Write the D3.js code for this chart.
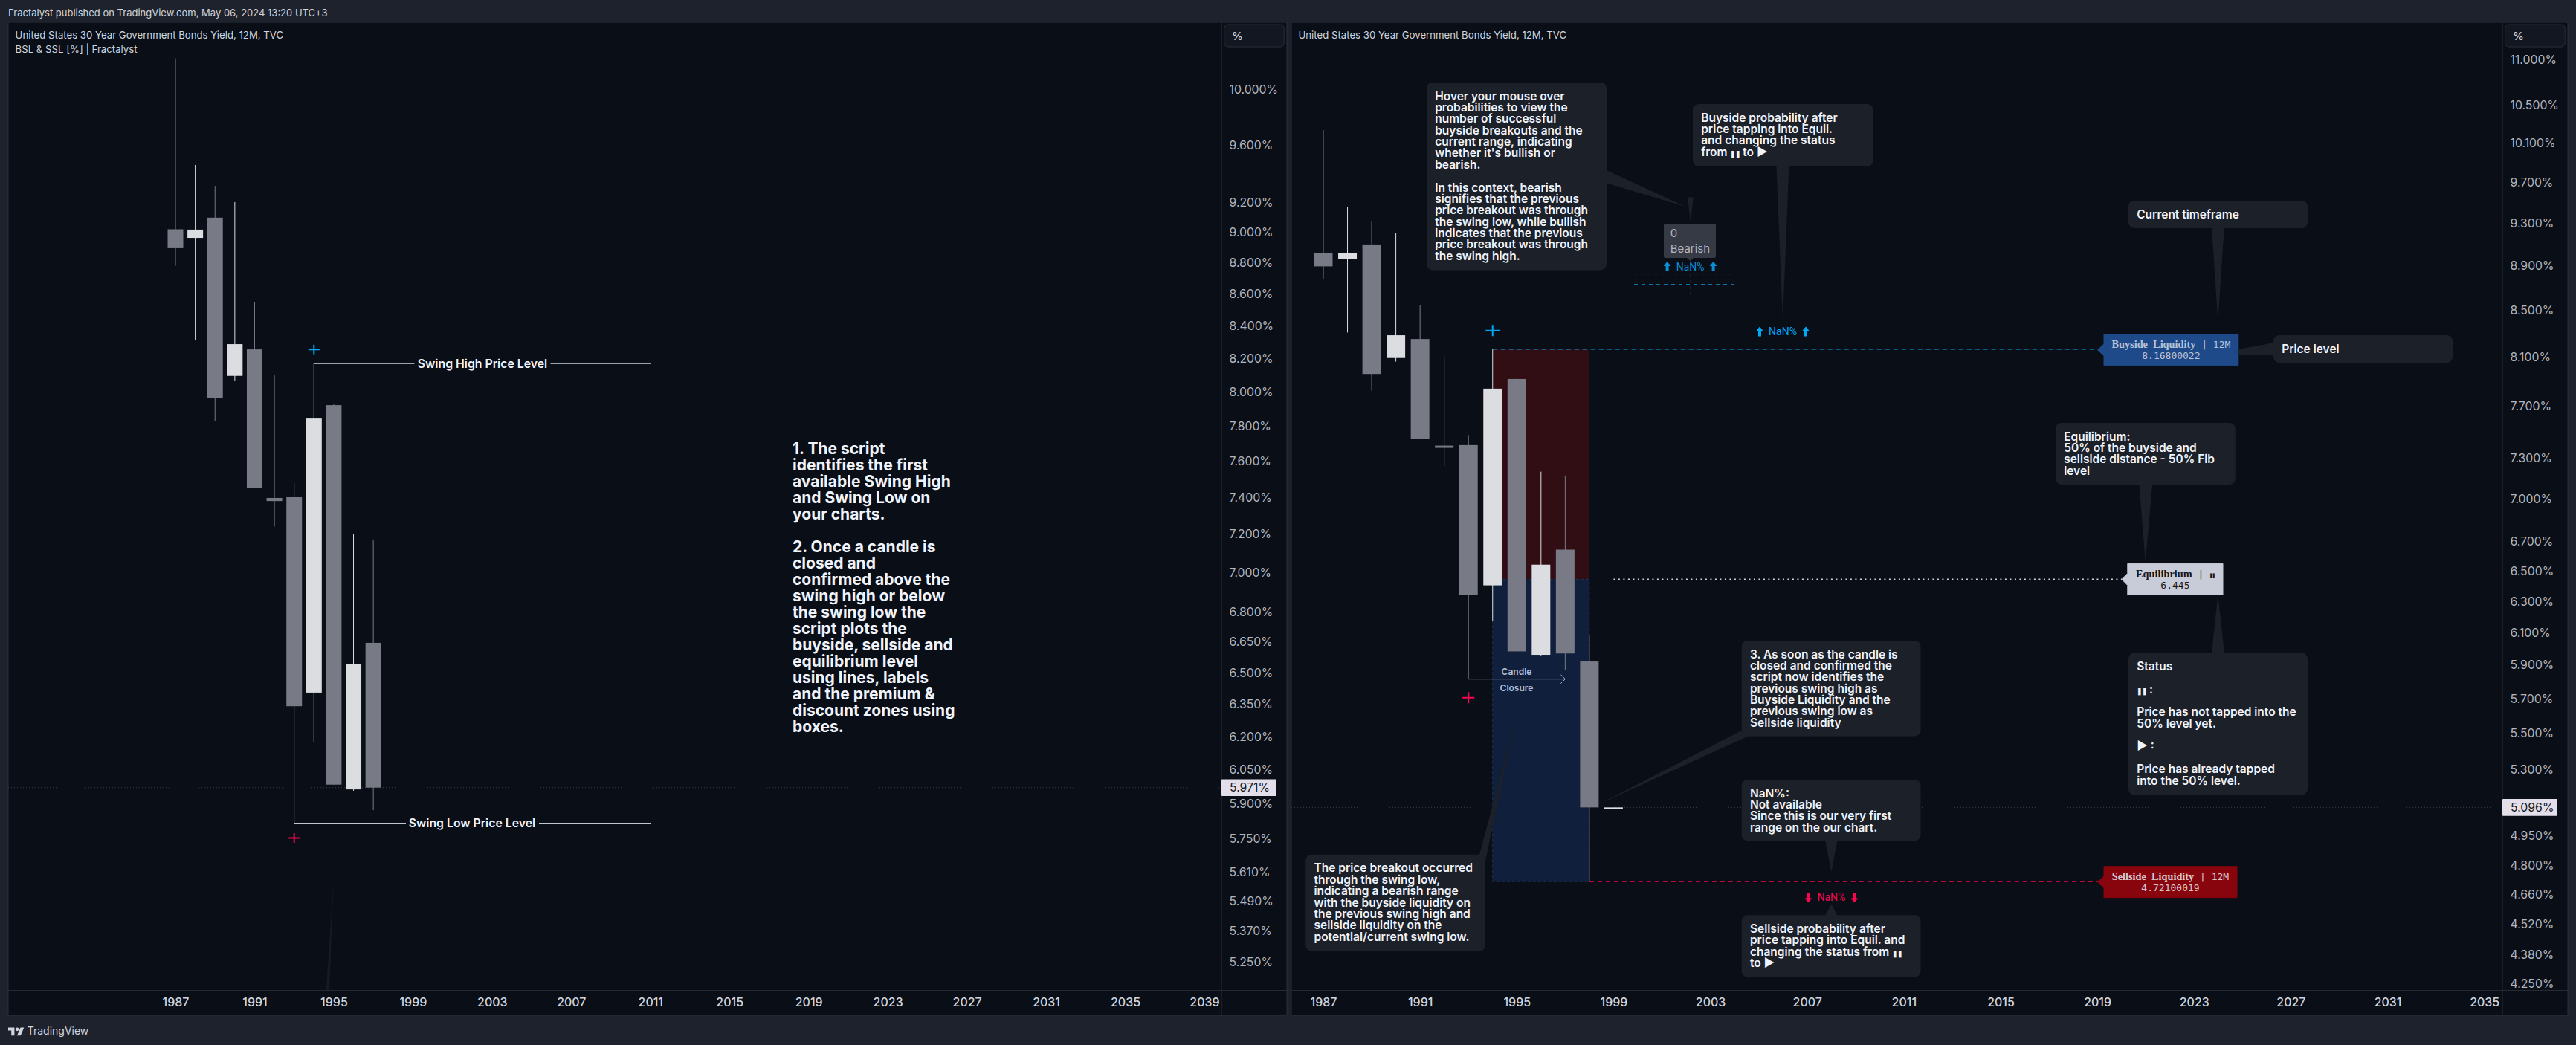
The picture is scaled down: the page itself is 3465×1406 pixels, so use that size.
<!DOCTYPE html>
<html>
<head>
<meta charset="utf-8">
<title>BSL & SSL</title>
<script src="https://cdn.jsdelivr.net/npm/d3@7"></script>
<style>
    html, body { margin: 0; padding: 0; background: #1e222d; overflow: hidden; }
    svg { display: block; font-family: Inter, "Noto Sans", sans-serif; }
</style>
</head>
<body>
<div id="chart"></div>
<script>
// Yearly candles (1999 only exists on the right pane)
const years = [1987, 1988, 1989, 1990, 1991, 1992, 1993, 1994, 1995, 1996, 1997, 1998, 1999];
const opens = [9.02, 8.963, 9.098, 8.094, 8.254, 7.396, 7.40, 6.405, 7.921, 5.963, 6.645, 5.922, 5.096];
const highs = [10.234, 9.459, 9.314, 9.203, 8.545, 8.102, 7.477, 8.168, 7.93, 7.20, 7.172, 6.083, 5.096];
const lows = [8.78, 8.309, 7.826, 8.064, 7.449, 7.241, 5.816, 6.173, 5.984, 5.957, 5.872, 4.721, 5.096];
const closes = [8.895, 9.018, 7.962, 8.286, 7.449, 7.379, 6.341, 7.843, 5.984, 6.543, 5.971, 5.096, 5.096];

const buysideLevel = 8.168;
const sellsideLevel = 4.721;
const equilLevel = 6.445;
const swingLowLevel = 5.816;

const priceTicksLeft = [10, 9.6, 9.2, 9, 8.8, 8.6, 8.4, 8.2, 8, 7.8, 7.6, 7.4, 7.2, 7, 6.8, 6.65, 6.5, 6.35, 6.2, 6.05, 5.9, 5.75, 5.61, 5.49, 5.37, 5.25];
const priceTicksRight = [11, 10.5, 10.1, 9.7, 9.3, 8.9, 8.5, 8.1, 7.7, 7.3, 7, 6.7, 6.5, 6.3, 6.1, 5.9, 5.7, 5.5, 5.3, 4.95, 4.8, 4.66, 4.52, 4.38, 4.25];
const yearTicksLeft = [1987, 1991, 1995, 1999, 2003, 2007, 2011, 2015, 2019, 2023, 2027, 2031, 2035, 2039];
const yearTicksRight = [1987, 1991, 1995, 1999, 2003, 2007, 2011, 2015, 2019, 2023, 2027, 2031, 2035];

// Callout texts
const introLines = ["1. The script", "identifies the first", "available Swing High", "and Swing Low on", "your charts.", "", "2. Once a candle is", "closed and", "confirmed above the", "swing high or below", "the swing low the", "script plots the", "buyside, sellside and", "equilibrium level", "using lines, labels", "and the premium &", "discount zones using", "boxes."];
const hoverLines = ["Hover your mouse over", "probabilities to view the", "number of successful", "buyside breakouts and the", "current range, indicating", "whether it's bullish or", "bearish.", "", "In this context, bearish", "signifies that the previous", "price breakout was through", "the swing low, while bullish", "indicates that the previous", "price breakout was through", "the swing high."];
const buysideProbLines = ["Buyside probability after", "price tapping into Equil.", "and changing the status", "from ❚❚ to ▶"];
const timeframeLines = ["Current timeframe"];
const priceLevelLines = ["Price level"];
const equilLines = ["Equilibrium:", "50% of the buyside and", "sellside distance - 50% Fib", "level"];
const statusLines = ["Status", "", "❚❚ :", "", "Price has not tapped into the", "50% level yet.", "", "▶ :", "", "Price has already tapped", "into the 50% level."];
const step3Lines = ["3. As soon as the candle is", "closed and confirmed the", "script now identifies the", "previous swing high as", "Buyside Liquidity and the", "previous swing low as", "Sellside liquidity"];
const nanLines = ["NaN%:", "Not available", "Since this is our very first", "range on the our chart."];
const sellsideProbLines = ["Sellside probability after", "price tapping into Equil. and", "changing the status from ❚❚", "to ▶"];
const breakoutLines = ["The price breakout occurred", "through the swing low,", "indicating a bearish range", "with the buyside liquidity on", "the previous swing high and", "sellside liquidity on the", "potential/current swing low."];

const width = 3465;
const height = 1406;
const paneBg = "#0a0e17";
const border = "#2a2e39";
const bearColor = "#787b86";
const bullColor = "#dcdde0";
const blue = "#00a8f5";
const red = "#f7074f";
const calloutFill = "#1c2029";
const monoFont = "'DejaVu Sans Mono', monospace";
const serifFont = "'Liberation Serif', serif";
const pauseGlyph = "❚❚";

const candles = years.map((year, i) => ({ year, open: opens[i], high: highs[i], low: lows[i], close: closes[i] }));

const svg = d3.select("#chart")
    .append("svg")
    .attr("width", width)
    .attr("height", height)
    .attr("viewBox", `0 0 ${width} ${height}`);

// Page frame
svg.append("text")
    .attr("x", 11).attr("y", 17).attr("dy", "0.35em")
    .attr("fill", "#d1d4dc").attr("font-size", 13)
    .text("Fractalyst published on TradingView.com, May 06, 2024 13:20 UTC+3");

const logo = svg.append("g").attr("transform", "translate(11, 1380) scale(0.6)").attr("fill", "#d1d4dc");
logo.append("path").attr("d", "M14 22H7V11H0V4h14v18zM28 22h-8l7.5-18h8L28 22z");
logo.append("circle").attr("cx", 20).attr("cy", 8).attr("r", 4);
svg.append("text")
    .attr("x", 36.7).attr("y", 1387).attr("dy", "0.35em")
    .attr("fill", "#d1d4dc").attr("font-size", 14)
    .text("TradingView");

function drawPane(opts) {
    const { left, right, axisX, x, y, priceTicks, yearTicks, lastPrice, lastY } = opts;
    const top = 30;
    const bottom = 1366;
    const axisY = 1332.6;
    const g = svg.append("g");

    g.append("rect")
        .attr("x", left).attr("y", top)
        .attr("width", right - left).attr("height", bottom - top)
        .attr("fill", paneBg).attr("stroke", border).attr("stroke-width", 1);

    // Price axis
    const yAxis = g.append("g")
        .attr("transform", `translate(${axisX}, 0)`)
        .call(d3.axisRight(y)
            .tickValues(priceTicks)
            .tickSize(0)
            .tickPadding(10.5)
            .tickFormat((d) => `${d.toFixed(3)}%`));
    yAxis.select(".domain").remove();
    yAxis.selectAll("text")
        .attr("fill", "#b2b5be").attr("font-size", 15.8).attr("font-family", "Inter");

    // Time axis
    const xAxis = g.append("g")
        .attr("transform", `translate(0, ${axisY})`)
        .call(d3.axisBottom(x)
            .tickValues(yearTicks)
            .tickSize(0)
            .tickPadding(10)
            .tickFormat(d3.format("d")));
    xAxis.select(".domain").remove();
    xAxis.selectAll("text")
        .attr("fill", "#d1d4dc").attr("font-size", 16).attr("font-weight", 500).attr("font-family", "Inter");

    g.append("line").attr("x1", axisX).attr("x2", axisX).attr("y1", top).attr("y2", bottom).attr("stroke", border);
    g.append("line").attr("x1", left).attr("x2", right).attr("y1", axisY).attr("y2", axisY).attr("stroke", border);

    // Unit box
    g.append("rect")
        .attr("x", axisX + 3.7).attr("y", 33).attr("width", 80.5).attr("height", 30).attr("rx", 5)
        .attr("fill", "#131722").attr("stroke", border);
    g.append("text")
        .attr("x", axisX + 14).attr("y", 48.5).attr("dy", "0.35em")
        .attr("fill", "#d1d4dc").attr("font-size", 15).attr("font-weight", 500).text("%");

    // Last price line, drawn under the candles
    g.append("line")
        .attr("x1", left).attr("x2", axisX)
        .attr("y1", lastY).attr("y2", lastY)
        .attr("stroke", "#3a3e4a").attr("stroke-dasharray", "1 3");
    g.append("rect")
        .attr("x", axisX).attr("y", lastY - 11.3).attr("width", 74).attr("height", 22.6).attr("rx", 1)
        .attr("fill", "#e2dfea");
    g.append("text")
        .attr("x", axisX + 11).attr("y", lastY).attr("dy", "0.35em")
        .attr("fill", "#131722").attr("font-size", 15.8).text(`${lastPrice.toFixed(3)}%`);

    return g;
}

function drawCandles(g, data, x, y, bodyWidth) {
    const isBull = (d) => d.close >= d.open;
    const marks = g.selectAll(".candle").data(data).enter().append("g").attr("class", "candle");
    marks.append("line")
        .attr("x1", (d) => x(d.year)).attr("x2", (d) => x(d.year))
        .attr("y1", (d) => y(d.high)).attr("y2", (d) => y(d.low))
        .attr("stroke", (d) => isBull(d) ? bullColor : bearColor)
        .attr("stroke-width", 1);
    marks.append("rect")
        .attr("x", (d) => x(d.year) - bodyWidth / 2)
        .attr("width", bodyWidth)
        .attr("y", (d) => y(Math.max(d.open, d.close)))
        .attr("height", (d) => Math.max(2, y(Math.min(d.open, d.close)) - y(Math.max(d.open, d.close))))
        .attr("fill", (d) => isBull(d) ? bullColor : bearColor);
}

function drawCross(g, cx, cy, w, h, color) {
    g.append("path")
        .attr("d", `M${cx - w / 2},${cy}H${cx + w / 2}M${cx},${cy - h / 2}V${cy + h / 2}`)
        .attr("stroke", color).attr("stroke-width", 2).attr("fill", "none");
}

// Writes a string, keeping the pause glyph small like the status icon
function appendWithPause(text, str, glyphSize) {
    str.split(pauseGlyph).forEach((part, i) => {
        if (i > 0) {
            text.append("tspan").attr("font-size", glyphSize).attr("letter-spacing", -1.5).text(pauseGlyph);
        }
        if (part) {
            text.append("tspan").text(part);
        }
    });
}

function textBlock(g, lines, x, y, opts) {
    g.append("g").selectAll("text")
        .data(lines)
        .enter()
        .append("text")
        .attr("x", x)
        .attr("y", (d, i) => y + i * opts.lineHeight)
        .attr("dy", "0.35em")
        .attr("fill", opts.color || "#f0f3fa")
        .attr("font-size", opts.size)
        .attr("font-weight", opts.weight || 600)
        .each(function(d) {
            appendWithPause(d3.select(this), d, 9);
        });
}

// Dark rounded note with a pointed tail
function callout(g, x0, y0, x1, y1, lines, tail) {
    if (tail) {
        g.append("path").attr("d", d3.line()(tail) + "Z").attr("fill", calloutFill);
    }
    g.append("rect")
        .attr("x", x0).attr("y", y0).attr("width", x1 - x0).attr("height", y1 - y0).attr("rx", 8)
        .attr("fill", calloutFill);
    textBlock(g, lines, x0 + 11.2, y0 + 18.2, { size: 15.5, lineHeight: 15.36 });
}

function nanBadge(g, cx, cy, color, up) {
    g.append("text")
        .attr("x", cx).attr("y", cy).attr("dy", "0.35em")
        .attr("text-anchor", "middle").attr("fill", color).attr("font-size", 14).attr("font-family", "Roboto")
        .text("NaN%");
    [-31, 31].forEach((dx) => {
        const s = up ? 1 : -1;
        g.append("path")
            .attr("d", `M${cx + dx},${cy - 7 * s}l5,${6 * s}h-3v${7 * s}h-4v${-7 * s}h-3Z`)
            .attr("fill", color);
    });
}

function levelLabel(g, x0, x1, cy, tipX, fill, textColor, name, suffix, value) {
    g.append("path")
        .attr("d", `M${tipX},${cy}L${x0},${cy - 8}V${cy - 21}H${x1}V${cy + 21}H${x0}V${cy + 8}Z`)
        .attr("fill", fill).attr("stroke", fill).attr("stroke-width", 1).attr("stroke-linejoin", "round");
    const line1 = g.append("text")
        .attr("x", (x0 + x1) / 2).attr("y", cy - 8).attr("dy", "0.35em")
        .attr("text-anchor", "middle").attr("fill", textColor).attr("xml:space", "preserve");
    line1.append("tspan").attr("font-family", serifFont).attr("font-weight", 700).attr("font-size", 14.3).text(name);
    const tail = line1.append("tspan").attr("font-family", monoFont).attr("font-size", 13);
    appendWithPause(tail, ` | ${suffix}`, 8);
    g.append("text")
        .attr("x", (x0 + x1) / 2).attr("y", cy + 8).attr("dy", "0.35em")
        .attr("text-anchor", "middle").attr("fill", textColor)
        .attr("font-family", monoFont).attr("font-size", 13)
        .text(value);
}

// Left pane
const xLeft = d3.scaleLinear().domain([1987, 2039]).range([236, 1620]);
const yLeft = d3.scaleLog().domain([10, 5.25]).range([120.7, 1294]);
const leftCandles = candles.filter((d) => d.year <= 1997);
const leftPane = drawPane({
    left: 11, right: 1731, axisX: 1643,
    x: xLeft, y: yLeft,
    priceTicks: priceTicksLeft, yearTicks: yearTicksLeft,
    lastPrice: closes[10], lastY: yLeft(closes[10])
});

textBlock(leftPane, ["United States 30 Year Government Bonds Yield, 12M, TVC", "BSL & SSL [%] | Fractalyst"], 20.6, 47, { size: 13.2, lineHeight: 19.4, weight: 400, color: "#d1d4dc" });

// Faint tail of a note that sits outside the visible chart
leftPane.append("path")
    .attr("d", d3.line()([[438.8, 1332], [443, 1332], [449, 1180]]) + "Z")
    .attr("fill", "#171a23");

drawCandles(leftPane, leftCandles, xLeft, yLeft, 21);

// Swing High / Swing Low markers
const swingHighY = yLeft(buysideLevel);
const swingLowY = yLeft(swingLowLevel);
leftPane.append("path")
    .attr("d", `M${xLeft(1994)},${swingHighY}H557.4M740.5,${swingHighY}H875`)
    .attr("stroke", "#d1d4dc").attr("stroke-width", 1.2).attr("fill", "none");
leftPane.append("path")
    .attr("d", `M${xLeft(1993)},${swingLowY}H546M725,${swingLowY}H875`)
    .attr("stroke", "#d1d4dc").attr("stroke-width", 1).attr("fill", "none");
leftPane.append("text")
    .attr("x", 649).attr("y", swingHighY).attr("dy", "0.35em").attr("text-anchor", "middle")
    .attr("fill", "#f0f3fa").attr("font-size", 15.8).attr("font-weight", 600)
    .text("Swing High Price Level");
leftPane.append("text")
    .attr("x", 635).attr("y", swingLowY).attr("dy", "0.35em").attr("text-anchor", "middle")
    .attr("fill", "#f0f3fa").attr("font-size", 15.8).attr("font-weight", 600)
    .text("Swing Low Price Level");
drawCross(leftPane, xLeft(1994), swingHighY - 19, 15, 13, blue);
drawCross(leftPane, xLeft(1993), swingLowY + 20, 15, 13, red);

textBlock(leftPane, introLines, 1066, 603.4, { size: 21, lineHeight: 22, weight: 700 });

// Right pane
const xRight = d3.scaleLinear().domain([1987, 2035]).range([1780, 3341.7]);
const yRight = d3.scaleLog().domain([11, 4.25]).range([80.8, 1323.6]);
const rightPane = drawPane({
    left: 1737, right: 3454, axisX: 3366,
    x: xRight, y: yRight,
    priceTicks: priceTicksRight, yearTicks: yearTicksRight,
    lastPrice: closes[11], lastY: yRight(closes[11])
});

textBlock(rightPane, ["United States 30 Year Government Bonds Yield, 12M, TVC"], 1746.5, 47, { size: 13.2, lineHeight: 19.4, weight: 400, color: "#d1d4dc" });

// Premium and discount zones
const zoneX0 = xRight(1994);
const zoneX1 = xRight(1998);
rightPane.append("rect")
    .attr("x", zoneX0).attr("width", zoneX1 - zoneX0)
    .attr("y", yRight(buysideLevel)).attr("height", yRight(equilLevel) - yRight(buysideLevel))
    .attr("fill", "#310d14");
rightPane.append("rect")
    .attr("x", zoneX0).attr("width", zoneX1 - zoneX0)
    .attr("y", yRight(equilLevel)).attr("height", yRight(sellsideLevel) - yRight(equilLevel))
    .attr("fill", "#101f3b").attr("stroke", "#1c3358").attr("stroke-dasharray", "4 3");

drawCandles(rightPane, candles, xRight, yRight, 25);

// Level lines
rightPane.append("line")
    .attr("x1", zoneX0).attr("x2", 2822)
    .attr("y1", yRight(buysideLevel)).attr("y2", yRight(buysideLevel))
    .attr("stroke", blue).attr("stroke-width", 1.2).attr("stroke-dasharray", "6 5");
rightPane.append("line")
    .attr("x1", zoneX1).attr("x2", 2822)
    .attr("y1", yRight(sellsideLevel)).attr("y2", yRight(sellsideLevel))
    .attr("stroke", red).attr("stroke-width", 1.2).attr("stroke-dasharray", "6 5");
rightPane.append("line")
    .attr("x1", xRight(1999)).attr("x2", 2854)
    .attr("y1", yRight(equilLevel)).attr("y2", yRight(equilLevel))
    .attr("stroke", "#d1d4dc").attr("stroke-width", 2).attr("stroke-dasharray", "2 4.5");

drawCross(rightPane, xRight(1994), yRight(buysideLevel) - 25, 18.6, 15, blue);

// Candle closure arrow
const closureY = yRight(swingLowLevel);
rightPane.append("path")
    .attr("d", `M${xRight(1993)},${closureY}H${xRight(1997)}m-6,-6l6,6l-6,6`)
    .attr("stroke", "#aeb6c8").attr("fill", "none");
drawCross(rightPane, xRight(1993), closureY + 25, 16, 15, red);
rightPane.append("text")
    .attr("x", 2040).attr("y", closureY - 10).attr("dy", "0.35em").attr("text-anchor", "middle")
    .attr("fill", "#b2bfd8").attr("font-size", 12).attr("font-weight", 600).text("Candle");
rightPane.append("text")
    .attr("x", 2040).attr("y", closureY + 12).attr("dy", "0.35em").attr("text-anchor", "middle")
    .attr("fill", "#b2bfd8").attr("font-size", 12).attr("font-weight", 600).text("Closure");

// Level labels
levelLabel(rightPane, 2830, 3010.8, yRight(buysideLevel) + 1, 2821.6, "#1f4a8a", "#b9c3d8", "Buyside  Liquidity", "12M", "8.16800022");
levelLabel(rightPane, 2861.8, 2990, yRight(equilLevel), 2854, "#c8ccd9", "#131722", "Equilibrium", pauseGlyph, "6.445");
levelLabel(rightPane, 2830, 3009, yRight(sellsideLevel) + 0.5, 2821.6, "#88050e", "#d6c8ca", "Sellside  Liquidity", "12M", "4.72100019");

// Probability mini drawing with its hover tooltip
rightPane.append("line")
    .attr("x1", 2198).attr("x2", 2333).attr("y1", 368.7).attr("y2", 368.7)
    .attr("stroke", "#3a3e4a").attr("stroke-dasharray", "4 5");
rightPane.append("line")
    .attr("x1", 2198).attr("x2", 2338).attr("y1", 382.6).attr("y2", 382.6)
    .attr("stroke", "#0e7fb5").attr("stroke-dasharray", "5 5");
rightPane.append("line")
    .attr("x1", 2274).attr("x2", 2274).attr("y1", 369).attr("y2", 400)
    .attr("stroke", "#2f333e").attr("stroke-dasharray", "4 4");
rightPane.append("path")
    .attr("d", d3.line()([[2270, 265.6], [2277.6, 265.6], [2274, 300]]) + "Z")
    .attr("fill", calloutFill);
rightPane.append("path")
    .attr("d", "M2240,301H2306a2,2 0 0 1 2,2V345a2,2 0 0 1 -2,2H2278l-4.5,4l-4.5,-4H2240a2,2 0 0 1 -2,-2V303a2,2 0 0 1 2,-2Z")
    .attr("fill", "#363a45");
textBlock(rightPane, ["0", "Bearish"], 2246.7, 314, { size: 15, lineHeight: 20.4, weight: 400, color: "#b2b5be" });
nanBadge(rightPane, 2273.6, 359, "#0a8fd4", true);
nanBadge(rightPane, 2398, 446.4, blue, true);
nanBadge(rightPane, 2463.4, 1207.4, red, false);

// Notes
callout(rightPane, 1919, 111, 2161, 363.4, hoverLines, [[2161, 229], [2161, 246.4], [2266.5, 277.7]]);
callout(rightPane, 2277, 140, 2519.4, 223.7, buysideProbLines, [[2389.4, 223], [2406.4, 223], [2398, 431]]);
callout(rightPane, 2863, 270, 3104, 307, timeframeLines, [[2975, 306], [2991.8, 306], [2983.4, 433]]);
callout(rightPane, 3058, 451, 3299, 488, priceLevelLines, [[3010.8, 470], [3059, 461], [3059, 478], [3010.8, 478]]);
callout(rightPane, 2765, 569, 3006.8, 652, equilLines, [[2877.4, 651], [2895.2, 651], [2885.8, 756]]);
callout(rightPane, 2863, 878.3, 3104, 1069.7, statusLines, [[2975, 879], [2992, 879], [2983.4, 800.4]]);
callout(rightPane, 2342.7, 862, 2583.5, 990.4, step3Lines, [[2342.7, 982.8], [2351.5, 990.4], [2151.3, 1081.8]]);
callout(rightPane, 2342.7, 1049, 2583.5, 1131.3, nanLines, [[2455, 1130], [2471.6, 1130], [2463.4, 1172.8]]);
callout(rightPane, 2342.7, 1231.3, 2583.5, 1314.6, sellsideProbLines, [[2455, 1232], [2471.6, 1232], [2463.4, 1216.4]]);
callout(rightPane, 1756.3, 1149.8, 1998, 1279.5, breakoutLines, [[1990, 1150], [1998, 1158], [2038.3, 969.3]]);
</script>
</body>
</html>
